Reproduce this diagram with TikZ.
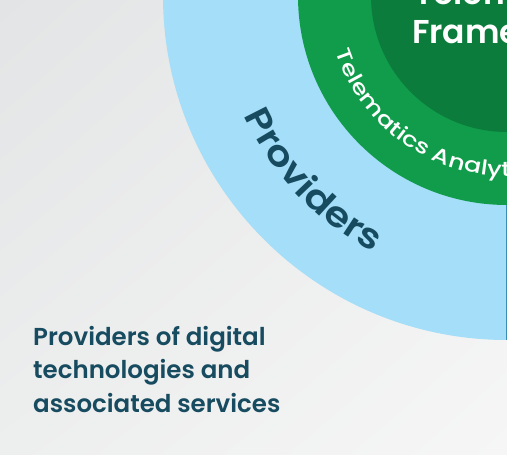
\documentclass[tikz,border=0pt]{standalone}
\usepackage{fontspec}
\setmainfont{Poppins}
\newfontfamily\semib{Poppins SemiBold}
\newfontfamily\semibwide{Poppins SemiBold}[FakeStretch=1.15]
\newfontfamily\arcfont{Poppins Medium}[FakeStretch=1.24]
\usetikzlibrary{decorations.text,shadings}
\definecolor{bgA}{HTML}{E3E4E5}
\definecolor{bgB}{HTML}{F6F6F6}
\definecolor{bgC}{HTML}{EDEEEE}
\definecolor{lblue}{HTML}{A5DEF8}
\definecolor{mgreen}{HTML}{109C4A}
\definecolor{dgreen}{HTML}{0B7C3B}
\definecolor{txtteal}{HTML}{174B60}
\definecolor{edgeblue}{HTML}{3C8DB4}
\tikzset{
  bodytext/.style={txtteal, font=\semib\fontsize{24.5}{34}\selectfont, anchor=base west, inner sep=0pt},
  centretext/.style={white, font=\semib\fontsize{33}{38}\selectfont, anchor=base, inner sep=0pt}
}
\begin{document}
\begin{tikzpicture}[x=1pt,y=1pt]
\useasboundingbox (0,0) rectangle (507,-455);
\clip (0,0) rectangle (507,-455);
\shade[upper left=bgA, upper right=bgC, lower left=bgC, lower right=bgB] (0,0) rectangle (507,-455);
\coordinate (C) at (507,4);
\fill[lblue] (C) circle[radius=344];
\fill[mgreen] (C) circle[radius=209];
\fill[dgreen] (C) circle[radius=136];
\coordinate (e1) at (506.4,-205);
\coordinate (e2) at (506.4,-340);
\draw[edgeblue, line width=1.2pt] (e1) -- (e2);
\path[decorate, decoration={text along path, text align=left,
  text={|\color{white}\arcfont\fontsize{20.5}{20.5}\selectfont|Telematics Analytics}}]
  ([shift={(198:180)}]C) arc[start angle=198, end angle=320, radius=180];
\path[decorate, decoration={text along path, text align=left,
  text={|\color{txtteal}\semibwide\fontsize{35}{35}\selectfont|Providers}}]
  ([shift={(204.5:289)}]C) arc[start angle=204.5, end angle=270, radius=289];
\node[centretext] (t1) at (507,-5) {Telematics};
\node[centretext] (t2) at (507,-43) {Framework};
\node[bodytext] (l1) at (33,-345) {Providers of digital};
\node[bodytext] (l2) at (33,-378.5) {technologies and};
\node[bodytext] (l3) at (33,-412) {associated services};
\end{tikzpicture}
\end{document}
